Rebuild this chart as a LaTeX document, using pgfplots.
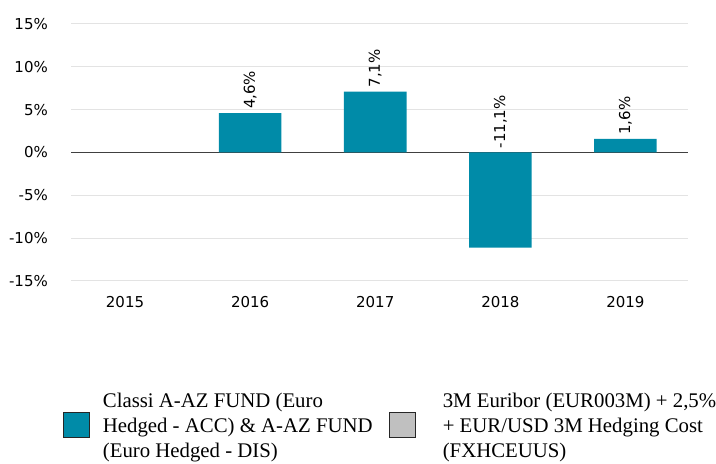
\documentclass[border=0pt]{standalone}
\usepackage{pgfplots}
\pgfplotsset{compat=1.18}
\usepackage{fontspec}
\setmainfont{DejaVu Sans}
\newfontfamily\legfont{Liberation Serif}
\definecolor{barteal}{HTML}{008BA8}
\definecolor{boxgray}{HTML}{C0C0C0}
\definecolor{gridgray}{HTML}{E3E3E3}
\pgfplotsset{mylegbox/.style={legend image code/.code={\draw[##1, draw=black!85, line width=0.9bp] (0bp,-24.3bp) rectangle (26bp,0.7bp);}}}
\begin{document}
\begin{tikzpicture}
\useasboundingbox (0,0) rectangle (716bp,464bp);
\begin{axis}[
  at={(71bp,183bp)}, anchor=south west,
  scale only axis, width=617bp, height=257bp,
  xmin=-0.432, xmax=4.5, ymin=-15, ymax=15,
  axis line style={draw=none},
  major tick style={draw=none},
  xtick={0,1,2,3,4}, xticklabels={2015,2016,2017,2018,2019},
  ytick={-15,-10,-5,0,5,10,15},
  yticklabels={-15\%,-10\%,-5\%,0\%,5\%,10\%,15\%},
  ymajorgrids, grid style={gridgray, line width=1bp},
  extra y ticks={0}, extra y tick labels={},
  extra y tick style={grid style={black!75, line width=1bp}, major tick style={draw=none}},
  ticklabel style={font=\fontsize{15bp}{18bp}\selectfont},
  yticklabel style={anchor=east, inner sep=0pt, xshift=-23bp},
  xticklabel style={anchor=north, inner sep=0pt, yshift=-15bp},
  legend style={at={(-0.013,-0.523)}, anchor=west, draw=none, fill=none,
    inner sep=0pt, outer sep=0pt, legend columns=2,
    font=\legfont\fontsize{20.8bp}{25bp}\selectfont,
    nodes={inner sep=0pt},
    /tikz/every odd column/.append style={column sep=13bp},
    /tikz/every even column/.append style={column sep=6bp}},
  legend cell align=left,
]
\addplot[ybar, bar width=0.5, bar shift=0pt, fill=barteal, draw=none, mylegbox]
  coordinates {(1,4.6) (2,7.1) (3,-11.1) (4,1.6)};
\addlegendentry{\parbox{280bp}{\raggedright Classi A-AZ FUND (Euro\\Hedged - ACC) \& A-AZ FUND\\(Euro Hedged - DIS)}}
\addlegendimage{fill=boxgray, mylegbox}
\addlegendentry{\hspace*{14bp}\parbox{285bp}{\raggedright 3M Euribor (EUR003M) + 2,5\%\\+ EUR/USD 3M Hedging Cost\\(FXHCEUUS)}}
\addplot[draw=none, mark=none, nodes near coords, point meta=explicit symbolic,
  nodes near coords style={rotate=90, anchor=west, inner sep=4bp, font=\fontsize{15bp}{18bp}\selectfont},
  forget plot]
  coordinates {(1,4.6) [4,6\%] (2,7.1) [7,1\%] (3,0) [-11,1\%] (4,1.6) [1,6\%]};
\end{axis}
\end{tikzpicture}
\end{document}
